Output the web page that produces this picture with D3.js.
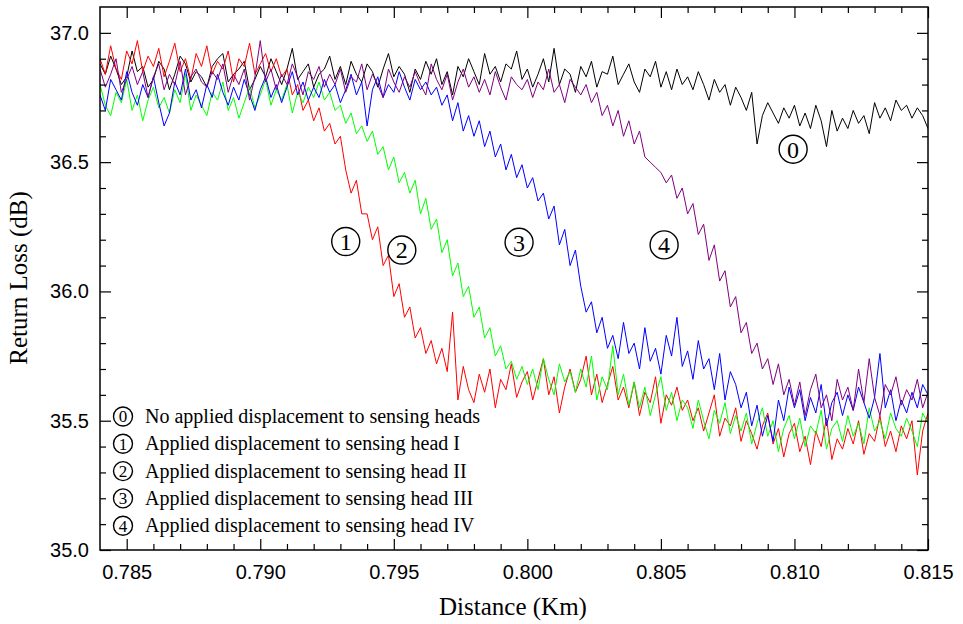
<!DOCTYPE html>
<html>
<head>
<meta charset="utf-8"/>
<script src="https://d3js.org/d3.v7.min.js"></script>
<style>
  body { margin: 0; background: #fff; }
  svg text { fill: #000; }
</style>
</head>
<body>
<script>
// sample grid of the traces (km), one sample every 0.0002 km
var distStart = 0.784, distStep = 0.0002, nSamples = 156;
var distance = d3.range(nSamples).map(function(i){ return +(distStart + i*distStep).toFixed(4); });

// return loss traces (dB)
var trace0 = [
 36.88,36.84,36.91,36.86,36.80,36.83,36.93,36.85,36.87,36.79,
 36.82,36.89,36.86,36.78,36.84,36.91,36.88,36.81,36.85,36.83,
 36.79,36.87,36.90,36.92,36.81,36.84,36.86,36.89,36.78,36.82,
 36.87,36.83,36.90,36.85,36.80,36.86,36.94,36.82,36.85,36.88,
 36.79,36.84,36.86,36.91,36.82,36.87,36.80,36.89,36.84,36.81,
 36.88,36.85,36.79,36.86,36.92,36.83,36.87,36.84,36.77,36.86,
 36.82,36.89,36.84,36.90,36.80,36.85,36.76,36.87,36.83,36.90,
 36.85,36.80,36.92,36.84,36.87,36.81,36.88,36.86,36.93,36.82,
 36.86,36.79,36.84,36.90,36.81,36.94,36.80,36.86,36.84,36.77,
 36.87,36.83,36.89,36.79,36.85,36.84,36.91,36.80,36.84,36.88,
 36.81,36.77,36.86,36.83,36.89,36.79,36.85,36.78,36.86,36.80,
 36.83,36.78,36.85,36.80,36.74,36.82,36.77,36.80,36.72,36.79,
 36.75,36.70,36.77,36.57,36.68,36.73,36.69,36.65,36.71,36.67,
 36.72,36.64,36.69,36.63,36.72,36.66,36.56,36.70,36.62,36.67,
 36.63,36.70,36.65,36.68,36.61,36.73,36.67,36.71,36.66,36.74,
 36.70,36.72,36.67,36.71,36.68,36.63
];
var trace1 = [
 36.90,36.84,36.95,36.86,36.82,36.93,36.88,36.97,36.85,36.91,
 36.87,36.94,36.83,36.89,36.96,36.85,36.90,36.82,36.92,36.87,
 36.95,36.84,36.89,36.86,36.93,36.81,36.90,36.87,36.96,36.84,
 36.88,36.92,36.85,36.90,36.83,36.86,36.76,36.80,36.70,36.74,
 36.66,36.71,36.62,36.65,36.57,36.60,36.47,36.38,36.43,36.30,
 36.30,36.20,36.25,36.10,36.14,35.98,36.03,35.90,35.94,35.82,
 35.86,35.76,35.81,35.72,35.78,35.69,35.92,35.58,35.71,35.62,
 35.57,35.68,35.61,35.70,35.55,35.66,35.62,35.72,35.59,35.65,
 35.69,35.58,35.66,35.74,35.60,35.67,35.53,35.63,35.70,35.61,
 35.66,35.75,35.60,35.68,35.57,35.64,35.71,35.58,35.63,35.55,
 35.65,35.52,35.61,35.57,35.67,35.49,35.60,35.56,35.63,35.54,
 35.58,35.50,35.55,35.46,35.53,35.60,35.44,35.51,35.48,35.55,
 35.42,35.50,35.45,35.39,35.48,35.53,35.41,35.47,35.36,35.45,
 35.49,35.38,35.44,35.33,35.46,35.40,35.51,35.35,35.43,35.39,
 35.47,35.41,35.50,35.37,35.45,35.42,35.52,35.40,35.46,35.38,
 35.48,35.43,35.50,35.29,35.46,35.53
];
var trace2 = [
 36.80,36.72,36.68,36.77,36.73,36.82,36.70,36.76,36.66,36.74,
 36.79,36.71,36.75,36.69,36.78,36.73,36.84,36.70,36.76,36.72,
 36.68,36.77,36.74,36.81,36.70,36.75,36.67,36.73,36.79,36.71,
 36.76,36.82,36.72,36.78,36.74,36.80,36.69,36.77,36.73,36.79,
 36.75,36.81,36.74,36.77,36.70,36.72,36.65,36.69,36.61,36.64,
 36.58,36.62,36.53,36.56,36.47,36.52,36.42,36.46,36.38,36.43,
 36.30,36.36,36.24,36.28,36.15,36.20,36.06,36.11,35.98,36.02,
 35.90,35.94,35.82,35.86,35.75,35.79,35.70,35.73,35.66,35.71,
 35.64,35.70,35.62,35.74,35.66,35.60,35.72,35.65,35.69,35.61,
 35.70,35.63,35.75,35.58,35.67,35.62,35.79,35.60,35.68,35.56,
 35.65,35.55,35.63,35.52,35.60,35.67,35.54,35.61,35.50,35.58,
 35.55,35.47,35.58,35.50,35.43,35.54,35.49,35.57,35.45,35.52,
 35.46,35.53,35.41,35.49,35.55,35.44,35.50,35.38,35.47,35.52,
 35.43,35.51,35.40,35.48,35.45,35.54,35.39,35.47,35.50,35.42,
 35.52,35.44,35.49,35.41,35.55,35.46,35.50,35.43,35.53,35.47,
 35.44,35.51,35.46,35.40,35.53,35.49
];
var trace3 = [
 36.76,36.70,36.82,36.78,36.74,36.85,36.77,36.72,36.80,36.75,
 36.83,36.73,36.64,36.69,36.81,36.76,36.86,36.74,36.78,36.71,
 36.80,36.75,36.84,36.77,36.72,36.79,36.74,36.82,36.76,36.70,
 36.78,36.83,36.75,36.80,36.73,36.79,36.85,36.76,36.81,36.74,
 36.79,36.75,36.82,36.77,36.80,36.73,36.78,36.84,36.76,36.81,
 36.64,36.78,36.83,36.75,36.80,36.77,36.85,36.79,36.74,36.82,
 36.78,36.81,36.76,36.79,36.72,36.76,36.66,36.73,36.62,36.68,
 36.60,36.66,36.56,36.62,36.52,36.57,36.47,36.53,36.44,36.49,
 36.40,36.44,36.35,36.38,36.28,36.33,36.18,36.24,36.10,36.16,
 36.02,35.92,35.96,35.84,35.90,35.78,35.83,35.74,35.88,35.76,
 35.80,35.70,35.86,35.73,35.78,35.68,35.83,35.75,35.90,35.71,
 35.77,35.66,35.81,35.70,35.74,35.62,35.76,35.58,35.69,35.64,
 35.55,35.61,35.48,35.56,35.44,35.52,35.42,35.58,35.50,35.63,
 35.55,35.62,35.50,35.59,35.53,35.64,35.48,35.57,35.61,35.52,
 35.60,35.54,35.63,35.57,35.51,35.59,35.76,35.55,35.62,35.50,
 35.58,35.53,35.61,35.55,35.64,35.60
];
var trace4 = [
 36.86,36.79,36.84,36.90,36.77,36.82,36.87,36.80,36.85,36.75,
 36.83,36.88,36.78,36.84,36.80,36.89,36.76,36.83,36.86,36.81,
 36.79,36.85,36.82,36.88,36.77,36.84,36.80,36.86,36.74,36.83,
 36.97,36.81,36.86,36.78,36.84,36.80,36.88,36.83,36.76,36.85,
 36.82,36.87,36.79,36.84,36.80,36.86,36.77,36.83,36.81,36.88,
 36.78,36.84,36.80,36.75,36.86,36.81,36.77,36.83,36.79,36.85,
 36.80,36.76,36.88,36.82,36.78,36.84,36.74,36.81,36.86,36.79,
 36.83,36.77,36.82,36.76,36.85,36.79,36.74,36.83,36.80,36.78,
 36.82,36.75,36.81,36.78,36.86,36.77,36.80,36.73,36.82,36.79,
 36.76,36.80,36.73,36.77,36.68,36.72,36.64,36.70,36.60,36.66,
 36.57,36.62,36.52,36.50,36.48,36.46,36.42,36.45,36.36,36.40,
 36.30,36.34,36.22,36.26,36.12,36.18,36.04,36.08,35.94,35.98,
 35.84,35.88,35.76,35.80,35.70,35.74,35.64,35.72,35.60,35.66,
 35.56,35.65,35.52,35.62,35.68,35.55,35.60,35.50,35.66,35.58,
 35.63,35.54,35.70,35.57,35.74,35.59,35.52,35.64,35.60,35.67,
 35.56,35.62,35.58,35.66,35.55,35.61
];

// draw order and colours of the traces
var traces = [trace0, trace1, trace2, trace3, trace4];
var traceColors = ["#000000", "#ff0000", "#00ff00", "#0000ff", "#800080"];

// legend + annotation text
var legendDigits = ["0", "1", "2", "3", "4"];
var legendLabels = [
  "No applied displacement to sensing heads",
  "Applied displacement to sensing head I",
  "Applied displacement to sensing head II",
  "Applied displacement to sensing head III",
  "Applied displacement to sensing head IV"
];
// where the circled numbers sit on the curves (km, dB)
var markDist = [0.80995, 0.7932, 0.7953, 0.79969, 0.80512];
var markLoss = [36.55, 36.193, 36.16, 36.19, 36.18];

var xMajor = [0.785, 0.790, 0.795, 0.800, 0.805, 0.810, 0.815];
var yMajor = [35.0, 35.5, 36.0, 36.5, 37.0];

var width = 963, height = 624;
var pLeft = 100, pRight = 928, pTop = 7, pBottom = 550;

var svg = d3.select("body").append("svg")
  .attr("width", width)
  .attr("height", height);

var x = d3.scaleLinear().domain([0.784, 0.815]).range([pLeft, pRight]);
var y = d3.scaleLinear().domain([35.0, 37.1]).range([pBottom, pTop]);

// clip so traces stay in the frame
svg.append("clipPath").attr("id", "plotClip")
  .append("rect")
  .attr("x", pLeft).attr("y", pTop)
  .attr("width", pRight-pLeft).attr("height", pBottom-pTop);

var line = d3.line()
  .x(function(d,i){ return x(distance[i]); })
  .y(function(d){ return y(d); });

var traceG = svg.append("g").attr("clip-path", "url(#plotClip)");
traces.forEach(function(t, k){
  traceG.append("path")
    .attr("d", line(t))
    .attr("fill", "none")
    .attr("stroke", traceColors[k])
    .attr("stroke-width", 1)
    .attr("stroke-linejoin", "round");
});

// minor ticks
var xMinor = d3.range(785, 816).map(function(v){ return v/1000; }).filter(function(v){
  return xMajor.indexOf(v) < 0;
});
var yMinor = d3.range(350, 371).map(function(v){ return v/10; }).filter(function(v){
  return yMajor.indexOf(v) < 0;
});

var tickFont = "'Liberation Sans', Arial, Helvetica, sans-serif";

function styleAxis(g){
  g.select(".domain").remove();
  g.selectAll("line").attr("stroke", "#000").attr("stroke-width", 1.2);
  g.selectAll("text").style("font-family", tickFont).style("font-size", "20px").attr("fill", "#000");
}

// bottom
svg.append("g").attr("transform", "translate(0," + pBottom + ")")
  .call(d3.axisBottom(x).tickValues(xMajor).tickSize(-11).tickPadding(15).tickFormat(d3.format(".3f")))
  .call(styleAxis);
svg.append("g").attr("transform", "translate(0," + pBottom + ")")
  .call(d3.axisBottom(x).tickValues(xMinor).tickSize(-6).tickFormat(""))
  .call(styleAxis);
// top
svg.append("g").attr("transform", "translate(0," + pTop + ")")
  .call(d3.axisTop(x).tickValues(xMajor).tickSize(-11).tickFormat(""))
  .call(styleAxis);
svg.append("g").attr("transform", "translate(0," + pTop + ")")
  .call(d3.axisTop(x).tickValues(xMinor).tickSize(-6).tickFormat(""))
  .call(styleAxis);
// left
svg.append("g").attr("transform", "translate(" + pLeft + ",0)")
  .call(d3.axisLeft(y).tickValues(yMajor).tickSize(-11).tickPadding(11).tickFormat(d3.format(".1f")))
  .call(styleAxis);
svg.append("g").attr("transform", "translate(" + pLeft + ",0)")
  .call(d3.axisLeft(y).tickValues(yMinor).tickSize(-6).tickFormat(""))
  .call(styleAxis);
// right
svg.append("g").attr("transform", "translate(" + pRight + ",0)")
  .call(d3.axisRight(y).tickValues(yMajor).tickSize(-11).tickFormat(""))
  .call(styleAxis);
svg.append("g").attr("transform", "translate(" + pRight + ",0)")
  .call(d3.axisRight(y).tickValues(yMinor).tickSize(-6).tickFormat(""))
  .call(styleAxis);

// frame
svg.append("rect")
  .attr("x", pLeft).attr("y", pTop)
  .attr("width", pRight-pLeft).attr("height", pBottom-pTop)
  .attr("fill", "none").attr("stroke", "#000").attr("stroke-width", 1.5);

var serif = "'Liberation Serif', 'Times New Roman', Times, serif";

// axis titles
svg.append("text")
  .attr("x", (pLeft+pRight)/2 - 1)
  .attr("y", 615)
  .attr("text-anchor", "middle")
  .style("font-family", serif).style("font-size", "25px")
  .text("Distance (Km)");

svg.append("text")
  .attr("transform", "translate(27," + 278 + ") rotate(-90)")
  .attr("text-anchor", "middle")
  .style("font-family", serif).style("font-size", "25px")
  .text("Return Loss (dB)");

// circled number helper
function circled(g, cx, cy, r, digit, fs){
  g.append("circle").attr("cx", cx).attr("cy", cy).attr("r", r)
    .attr("fill", "#fff").attr("stroke", "#000").attr("stroke-width", 1.4);
  g.append("text").attr("x", cx).attr("y", cy)
    .attr("text-anchor", "middle").attr("dy", "0.35em")
    .style("font-family", serif).style("font-size", fs + "px")
    .text(digit);
}

// annotations on the curves
var ann = svg.append("g");
legendDigits.forEach(function(dg, k){
  circled(ann, x(markDist[k]), y(markLoss[k]), 14, dg, 24);
});

// legend
var leg = svg.append("g");
var legY0 = 416.5, legStep = 27.3;
legendLabels.forEach(function(lbl, k){
  var cy = legY0 + k*legStep;
  circled(leg, 123, cy, 9.5, legendDigits[k], 17);
  leg.append("text")
    .attr("x", 145).attr("y", cy).attr("dy", "0.33em")
    .style("font-family", serif).style("font-size", "20px")
    .text(lbl);
});
</script>
</body>
</html>
